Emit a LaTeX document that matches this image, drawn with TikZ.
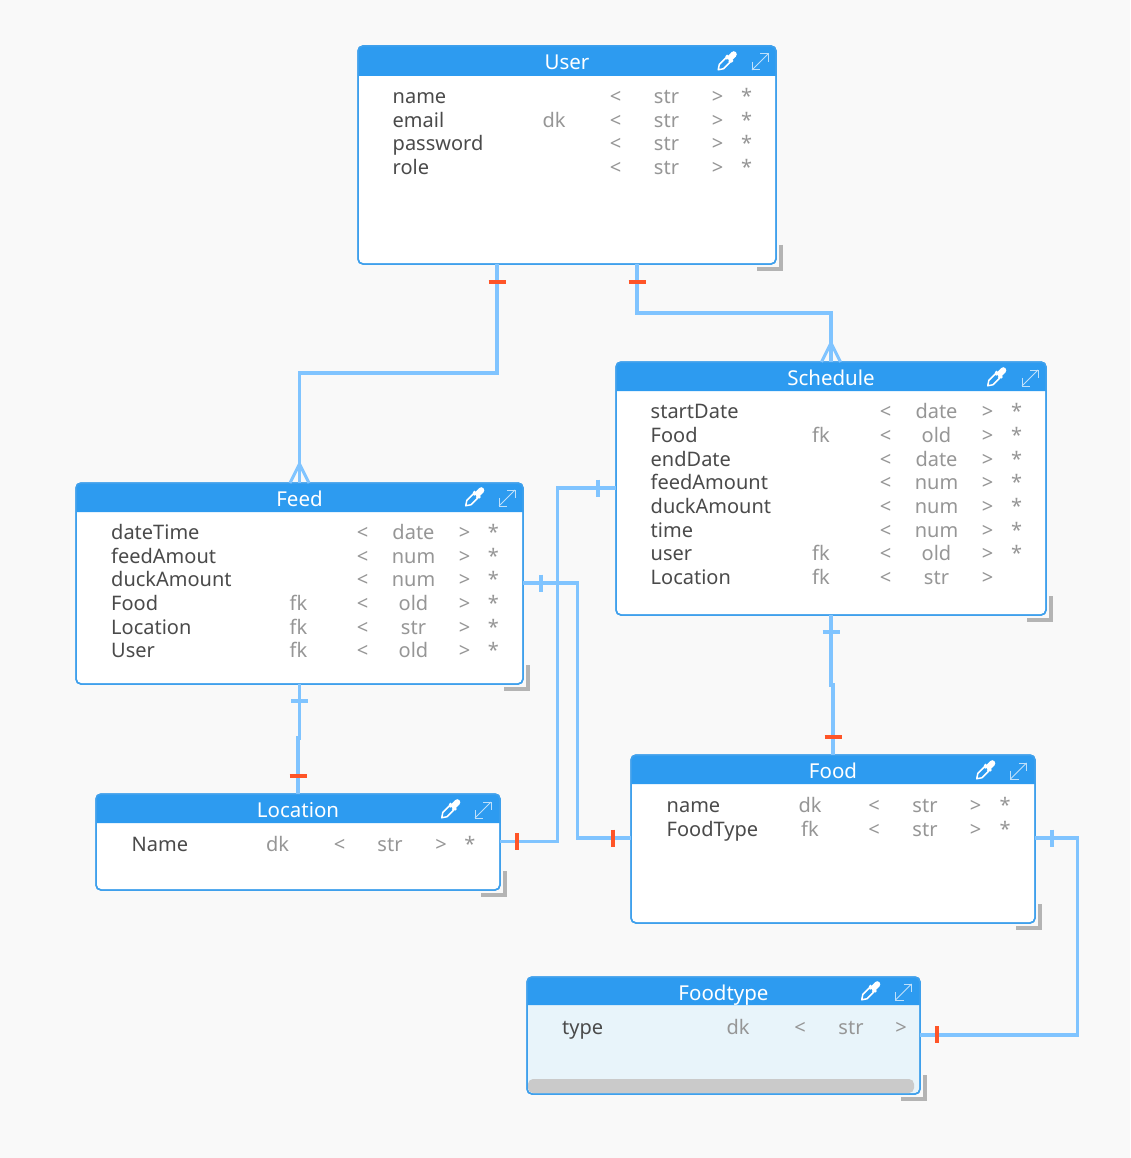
\documentclass[tikz,border=0pt]{standalone}
\usepackage{fontspec}
\setmainfont{Noto Sans}
\definecolor{pagebg}{HTML}{F9F9F9}
\definecolor{headblue}{HTML}{2D9BF0}
\definecolor{edgeblue}{HTML}{3FA0EC}
\definecolor{linkblue}{HTML}{80C4FF}
\definecolor{tickred}{HTML}{FF5528}
\definecolor{nametext}{HTML}{4A4A4A}
\definecolor{metatext}{HTML}{969696}
\definecolor{cornergray}{HTML}{B4B4B4}
\definecolor{tintfill}{HTML}{E8F4FA}
\definecolor{barGray}{HTML}{CACACA}
\definecolor{iconpale}{HTML}{BFE0FA}
\tikzset{
  tablebox/.style={draw=edgeblue,line width=1.5pt,rounded corners=5pt,fill=white,inner sep=0pt,outer sep=0pt},
  headfill/.style={fill=headblue},
  titletext/.style={text=white,font=\fontsize{20.5}{24}\selectfont,inner sep=0pt,anchor=base},
  nametxt/.style={text=nametext,font=\fontsize{20}{24}\selectfont,inner sep=0pt,anchor=base west},
  metatxt/.style={text=metatext,font=\fontsize{20}{24}\selectfont,inner sep=0pt,anchor=base},
  link/.style={draw=linkblue,line width=3.6pt,line join=miter},
  bluetick/.style={draw=linkblue,line width=3.6pt},
  redtick/.style={draw=tickred,line width=3.6pt},
  cornermark/.style={draw=cornergray,line width=3.6pt},
  crow/.style={draw=linkblue,line width=3pt},
}
% table: id, cx, cy, w, h, header height, title, body fill
\newcommand{\etable}[8]{%
  \node[tablebox,fill=#8,minimum width=#4pt,minimum height=#5pt] (#1) at (#2,#3) {};
  \fill[headfill] ([yshift=-#6pt]#1.north west) [rounded corners=5pt] -- (#1.north west) -- (#1.north east) [sharp corners] -- ([yshift=-#6pt]#1.north east) -- cycle;
  \draw[edgeblue,line width=1.5pt,rounded corners=5pt] (#1.north west) rectangle (#1.south east);
  \node[titletext] (#1-title) at ([yshift=-23.3pt]#1.north) {#7};
  \draw[cornermark] ([xshift=5pt,yshift=19pt]#1.south east) -- ([xshift=5pt,yshift=-5pt]#1.south east) -- ([xshift=-19pt,yshift=-5pt]#1.south east);
}
% icons: dropper centre x,y ; expand centre x,y
\newcommand{\eicons}[4]{%
  \begin{scope}[shift={(#1,#2)},rotate=-45]
    \draw[white,line width=1.5pt,line join=round] (-1,-3) -- (-3,-3) -- (-3,6.5) -- (0,11) -- (3,6.5) -- (3,-3) -- (1,-3);
    \fill[white] (-4.5,-3.5) rectangle (4.5,-6);
    \fill[white] (-3,-5) rectangle (3,-11);
    \fill[white] (0,-11) circle (3);
  \end{scope}
  \draw[iconpale,line width=1pt] (#3-8,#4+8) -- (#3+8,#4-8);
  \draw[iconpale,line width=1pt] (#3-8,#4) -- (#3-8,#4+8) -- (#3,#4+8);
  \draw[iconpale,line width=1pt] (#3,#4-8) -- (#3+8,#4-8) -- (#3+8,#4);
}
\newcommand{\ecols}[6]{\def\cN{#1}\def\cK{#2}\def\cL{#3}\def\cT{#4}\def\cR{#5}\def\cS{#6}}
% row: id, centre y, name, key, type, star
\newcommand{\erow}[6]{%
  \node[nametxt] (#1-n) at (\cN,#2+7) {#3};
  \if\relax\detokenize{#4}\relax\else\node[metatxt] (#1-k) at (\cK,#2+7) {#4};\fi
  \node[metatxt] (#1-l) at (\cL,#2+7) {<};
  \node[metatxt] (#1-t) at (\cT,#2+7) {#5};
  \node[metatxt] (#1-r) at (\cR,#2+7) {>};
  \if\relax\detokenize{#6}\relax\else\node[metatxt] (#1-s) at (\cS,#2+7) {#6};\fi
}
\begin{document}
\begin{tikzpicture}[x=1pt,y=-1pt]
\useasboundingbox[fill=pagebg] (0,0) rectangle (1130,1158);

% tables
\etable{user}{567}{155}{418}{218}{30}{User}{white}
\etable{schedule}{831}{488.5}{430}{253}{29}{Schedule}{white}
\etable{feed}{299.5}{583.5}{447}{201}{29}{Feed}{white}
\etable{location}{298}{842}{404}{96}{29}{Location}{white}
\etable{food}{833}{839}{404}{168}{29}{Food}{white}
\etable{foodtype}{723.5}{1035.5}{393}{117}{28}{Foodtype}{tintfill}

% foodtype scrollbar
\fill[barGray,rounded corners=5pt] ([xshift=1pt,yshift=1pt]foodtype.south west) rectangle ([xshift=-6pt,yshift=15pt]foodtype.south east);

% icons
\eicons{726}{62}{760}{62}
\eicons{995.5}{378}{1030}{378}
\eicons{473.5}{498}{507}{498}
\eicons{449.5}{810}{483}{810}
\eicons{984.5}{771}{1018.5}{771}
\eicons{869.5}{992}{903.5}{992}

% rows
\ecols{392.5}{554}{615.5}{666.5}{717.5}{746.5}
\erow{u1}{97}{name}{}{str}{*}
\erow{u2}{120.5}{email}{dk}{str}{*}
\erow{u3}{144}{password}{}{str}{*}
\erow{u4}{168}{role}{}{str}{*}

\ecols{650.5}{821}{885.5}{936.5}{987.5}{1016.5}
\erow{s1}{411}{startDate}{}{date}{*}
\erow{s2}{435}{Food}{fk}{old}{*}
\erow{s3}{459}{endDate}{}{date}{*}
\erow{s4}{482}{feedAmount}{}{num}{*}
\erow{s5}{506}{duckAmount}{}{num}{*}
\erow{s6}{530}{time}{}{num}{*}
\erow{s7}{553}{user}{fk}{old}{*}
\erow{s8}{577}{Location}{fk}{str}{}

\ecols{111}{298.5}{362.5}{413.5}{464.5}{493.5}
\erow{f1}{532}{dateTime}{}{date}{*}
\erow{f2}{556}{feedAmout}{}{num}{*}
\erow{f3}{579}{duckAmount}{}{num}{*}
\erow{f4}{603}{Food}{fk}{old}{*}
\erow{f5}{627}{Location}{fk}{str}{*}
\erow{f6}{650}{User}{fk}{old}{*}

\ecols{131.5}{277.5}{339.5}{390}{441}{470}
\erow{l1}{844}{Name}{dk}{str}{*}

\ecols{666.5}{810}{874}{925}{975.5}{1005}
\erow{o1}{805}{name}{dk}{str}{*}
\erow{o2}{829}{FoodType}{fk}{str}{*}

\ecols{562}{738}{800}{851}{901}{930}
\erow{t1}{1027}{type}{dk}{str}{}

% connectors
\draw[link] ([xshift=-70pt]user.south) -- ++(0,109) -| (feed.north);
\draw[link] ([xshift=70pt]user.south) -- ++(0,49) -| (schedule.north);
\draw[link] (schedule.south) -- ++(0,70) -| (food.north);
\draw[link] (feed.south) -- ++(0,54) -| (location.north);
\draw[link] ([yshift=0.5pt]schedule.west) -- ++(-58.5,0) |- ([yshift=0.5pt]location.east);
\draw[link] ([yshift=0.5pt]feed.east) -- ++(54.5,0) |- ([yshift=0.8pt]food.west);
\draw[link] ([yshift=0.8pt]food.east) -- ++(42.5,0) |- ([yshift=0.8pt]foodtype.east);

% crow feet
\draw[crow] ([xshift=-9.5pt]feed.north) -- ++(9.5,-19) -- ++(9.5,19);
\draw[crow] ([xshift=-9.5pt]schedule.north) -- ++(9.5,-19) -- ++(9.5,19);

% ticks
\draw[redtick] ([xshift=-70pt,yshift=-18pt]user.south) ++(-8.5,0) -- ++(17,0);
\draw[redtick] ([xshift=70pt,yshift=-18pt]user.south) ++(-8.5,0) -- ++(17,0);
\draw[bluetick] ([yshift=-17pt]schedule.south) ++(-8.5,0) -- ++(17,0);
\draw[redtick] ([yshift=18pt]food.north) ++(-8.5,0) -- ++(17,0);
\draw[bluetick] ([yshift=-17pt]feed.south) ++(-8.5,0) -- ++(17,0);
\draw[redtick] ([yshift=18pt]location.north) ++(-8.5,0) -- ++(17,0);
\draw[bluetick] ([xshift=-18pt,yshift=0.5pt]schedule.west) ++(0,-8.5) -- ++(0,17);
\draw[redtick] ([xshift=17pt,yshift=0.5pt]location.east) ++(0,-8.5) -- ++(0,17);
\draw[bluetick] ([xshift=18pt,yshift=0.5pt]feed.east) ++(0,-8.5) -- ++(0,17);
\draw[redtick] ([xshift=-18pt,yshift=0.8pt]food.west) ++(0,-8.5) -- ++(0,17);
\draw[bluetick] ([xshift=17pt,yshift=0.8pt]food.east) ++(0,-8.5) -- ++(0,17);
\draw[redtick] ([xshift=17pt,yshift=0.8pt]foodtype.east) ++(0,-8.5) -- ++(0,17);
\end{tikzpicture}
\end{document}
